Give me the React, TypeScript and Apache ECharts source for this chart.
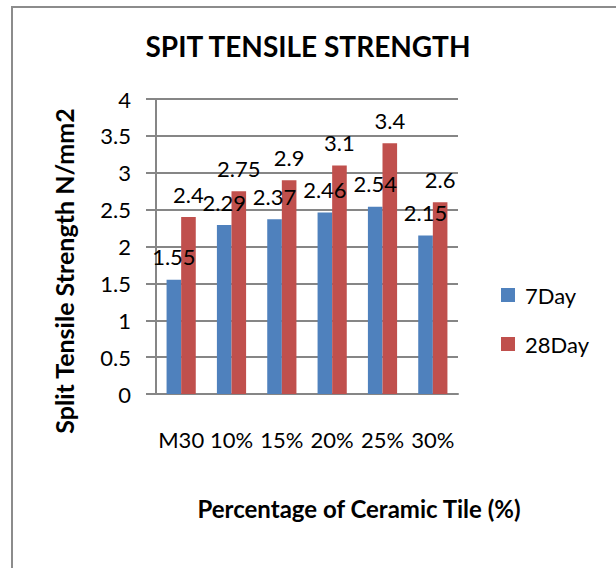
import React, { useEffect, useRef } from "react";
import * as echarts from "echarts";

const categories = ["M30", "10%", "15%", "20%", "25%", "30%"];
const day7 = [1.55, 2.29, 2.37, 2.46, 2.54, 2.15];
const day28 = [2.4, 2.75, 2.9, 3.1, 3.4, 2.6];
const seriesNames = ["7Day", "28Day"];
const chartTitle = "SPIT TENSILE STRENGTH";
const yTitle = "Split Tensile Strength N/mm2";
const xTitle = "Percentage of Ceramic Tile (%)";

const FONT = "Lato, 'Open Sans', sans-serif";

export default function App() {
  const ref = useRef<HTMLDivElement>(null);
  useEffect(() => {
    if (!ref.current) return;
    const chart = echarts.init(ref.current, null, { renderer: "svg" });
    const grid = "#868686";
    chart.setOption({
      animation: false,
      backgroundColor: "#ffffff",
      textStyle: { fontFamily: FONT },
      title: {
        text: chartTitle,
        left: "center",
        top: 32,
        padding: 0,
        textStyle: { fontFamily: FONT, fontSize: 28, fontWeight: "bold", color: "#000" },
      },
      legend: {
        orient: "vertical",
        left: 501,
        top: 284,
        padding: 0,
        itemWidth: 14,
        itemHeight: 14,
        itemGap: 27,
        icon: "rect",
        data: seriesNames,
        textStyle: { fontFamily: FONT, fontSize: 22, color: "#000", lineHeight: 22, padding: [0, 0, 0, 5] },
      },
      grid: { left: 156, top: 99, right: 158, bottom: 174, containLabel: false },
      xAxis: {
        type: "category",
        data: categories,
        axisLine: { show: true, lineStyle: { color: grid, width: 2 } },
        axisTick: { show: false },
        axisLabel: { fontFamily: FONT, fontSize: 22, color: "#000", margin: 34, interval: 0 },
        splitLine: { show: false },
      },
      yAxis: {
        type: "value",
        min: 0,
        max: 4,
        interval: 0.5,
        axisLine: { show: true, lineStyle: { color: grid, width: 2 } },
        axisTick: { show: true, length: 10, lineStyle: { color: grid, width: 2 } },
        axisLabel: { fontFamily: FONT, fontSize: 22, color: "#000", margin: 25 },
        splitLine: { show: true, lineStyle: { color: grid, width: 2 } },
      },
      series: [
        {
          name: seriesNames[0],
          type: "bar",
          data: day7,
          barGap: "0%",
          barCategoryGap: "42%",
          itemStyle: { color: "#4F81BD" },
          label: { show: true, position: "top", distance: 12, fontFamily: FONT, fontSize: 22, color: "#000" },
        },
        {
          name: seriesNames[1],
          type: "bar",
          data: day28,
          barGap: "0%",
          barCategoryGap: "42%",
          itemStyle: { color: "#C0504D" },
          label: { show: true, position: "top", distance: 12, fontFamily: FONT, fontSize: 22, color: "#000" },
        },
      ],
      graphic: [
        {
          type: "rect",
          shape: { x: 12, y: 7, width: 640, height: 600 },
          style: { fill: "none", stroke: "#8c8c8c", lineWidth: 2 },
          silent: true,
        },
        {
          type: "text",
          x: 64,
          y: 271,
          rotation: Math.PI / 2,
          style: {
            text: yTitle,
            fontFamily: FONT,
            fontSize: 25,
            fontWeight: "bold",
            fill: "#000",
            align: "center",
            verticalAlign: "middle",
          },
        },
        {
          type: "text",
          x: 359,
          y: 508,
          style: {
            text: xTitle,
            fontFamily: FONT,
            fontSize: 24,
            fontWeight: "bold",
            fill: "#000",
            align: "center",
            verticalAlign: "middle",
          },
        },
      ],
    });
    return () => chart.dispose();
  }, []);
  return (
    <div
      ref={ref}
      style={{ position: "fixed", left: 0, top: 0, width: 616, height: 568, background: "#fff" }}
    />
  );
}
